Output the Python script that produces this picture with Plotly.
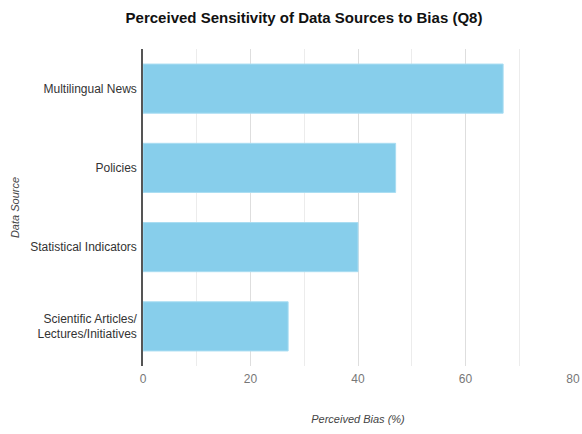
import plotly.graph_objects as go

categories = ["Multilingual News", "Policies", "Statistical Indicators",
              "Scientific Articles/<br>Lectures/Initiatives"]
values = [67, 47, 40, 27]
x_ticks = [0, 20, 40, 60, 80]

W, H = 582, 434

fig = go.Figure(go.Bar(
    x=values, y=categories, orientation="h",
    marker=dict(color="#87CEEB", line=dict(color="#a9ddf2", width=1)),
    hoverinfo="skip",
))

fig.update_layout(
    width=W, height=H,
    margin=dict(l=143, r=9, t=49, b=68, autoexpand=False),
    paper_bgcolor="white", plot_bgcolor="white",
    bargap=0.38,
    showlegend=False,
    font=dict(family="Liberation Sans, Arial, sans-serif", color="#333"),
    title=dict(text="<b>Perceived Sensitivity of Data Sources to Bias (Q8)</b>",
               x=304/W, xanchor="center", xref="container",
               y=1 - 18/H, yanchor="middle", yref="container",
               font=dict(size=15, color="#111")),
)

fig.update_xaxes(
    range=[0, 80], tickvals=x_ticks, ticktext=[str(v) for v in x_ticks],
    showgrid=True, gridcolor="#dedede", gridwidth=1.2,
    minor=dict(dtick=10, showgrid=True, gridcolor="#ececec", gridwidth=1),
    zeroline=False, showline=False, automargin=False,
    tickfont=dict(size=12, color="#777"), ticklabeloverflow="allow",
    ticks="", ticklabelstandoff=4,
    title=dict(text="<i>Perceived Bias (%)</i>", font=dict(size=11, color="#444"), standoff=30),
)
fig.update_yaxes(
    categoryorder="array", categoryarray=categories[::-1],
    showgrid=False, zeroline=False, automargin=False,
    showline=True, linecolor="#555", linewidth=1.5,
    tickfont=dict(size=12, color="#333"),
    ticks="", ticklabelstandoff=2,
    title=dict(text="<i>Data Source</i>", font=dict(size=11, color="#444"), standoff=8),
)

fig.write_html(
    "out.html",
    config={"displayModeBar": False},
    post_script="document.body.style.margin='0';document.body.style.overflow='hidden';",
)
